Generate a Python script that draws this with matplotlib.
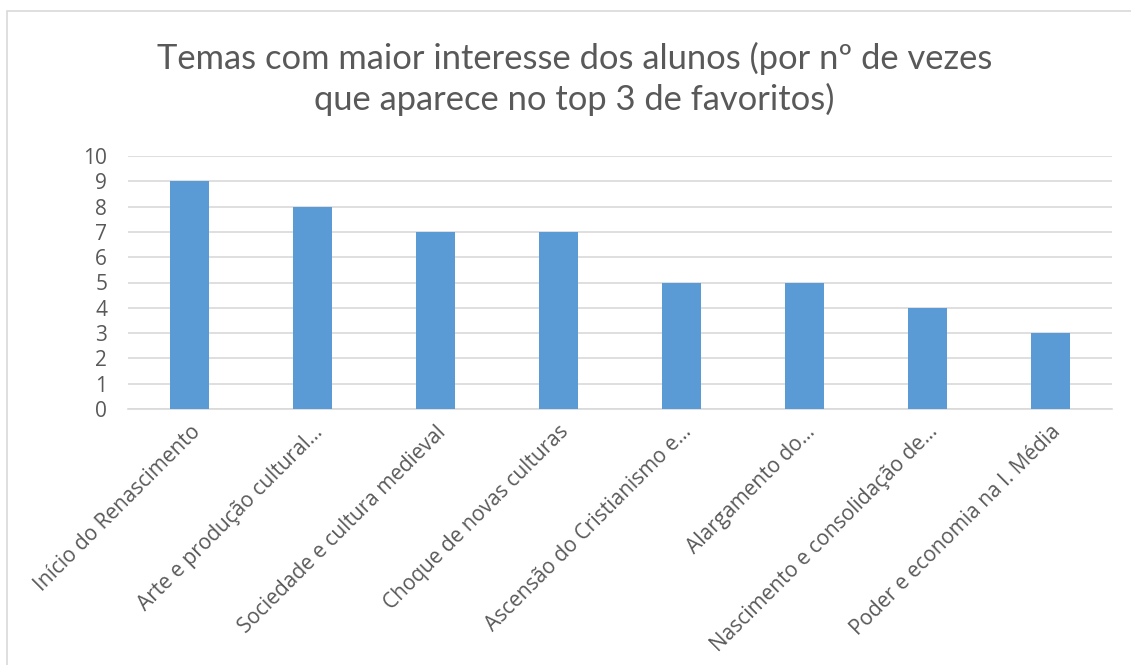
import matplotlib
matplotlib.use("Agg")
import matplotlib.pyplot as plt
from matplotlib.patches import Rectangle

temas = ["Início do Renascimento", "Arte e produção cultural...",
         "Sociedade e cultura medieval", "Choque de novas culturas",
         "Ascensão do Cristianismo e...", "Alargamento do...",
         "Nascimento e consolidação de...", "Poder e economia na I. Média"]
vezes = [9, 8, 7, 7, 5, 5, 4, 3]
titulo = "Temas com maior interesse dos alunos (por nº de vezes\nque aparece no top 3 de favoritos)"

txt = "#595959"
plt.rcParams['font.family'] = ['Open Sans', 'DejaVu Sans']

fig = plt.figure(figsize=(11.31, 6.65), dpi=100)
fig.patches.append(Rectangle((7/1131, -0.1), 1.2, 1 - 11/665 + 0.1, transform=fig.transFigure,
                             fill=False, edgecolor="#D9D9D9", linewidth=1.2))

ax = fig.add_axes([128/1131, 1 - 409/665, (1112 - 128)/1131, (409 - 156)/665])
x = range(len(temas))
ax.bar(x, vezes, width=0.31, color="#5B9BD5", zorder=3)
ax.set_xlim(-0.5, len(temas) - 0.5)
ax.set_ylim(0, 10)
ax.set_yticks(range(0, 11))
ax.yaxis.grid(True, color="#D9D9D9", linewidth=1.2, zorder=0)
for s in ["top", "right", "left"]:
    ax.spines[s].set_visible(False)
ax.spines["bottom"].set_color("#D9D9D9")
ax.spines["bottom"].set_linewidth(1.2)
ax.tick_params(length=0, colors=txt, labelsize=15)
ax.tick_params(axis='y', pad=15)
ax.set_xticks(list(x))
ax.set_xticklabels(temas, rotation=45, ha="right", rotation_mode="anchor", color=txt, fontsize=15)
ax.tick_params(axis='x', pad=9)

fig.text(0.508, 1 - 79/665, titulo, ha="center", va="center", fontsize=24.8, color=txt,
         linespacing=1.3, family=['Lato', 'DejaVu Sans'])

plt.savefig("out.png", dpi=100)
